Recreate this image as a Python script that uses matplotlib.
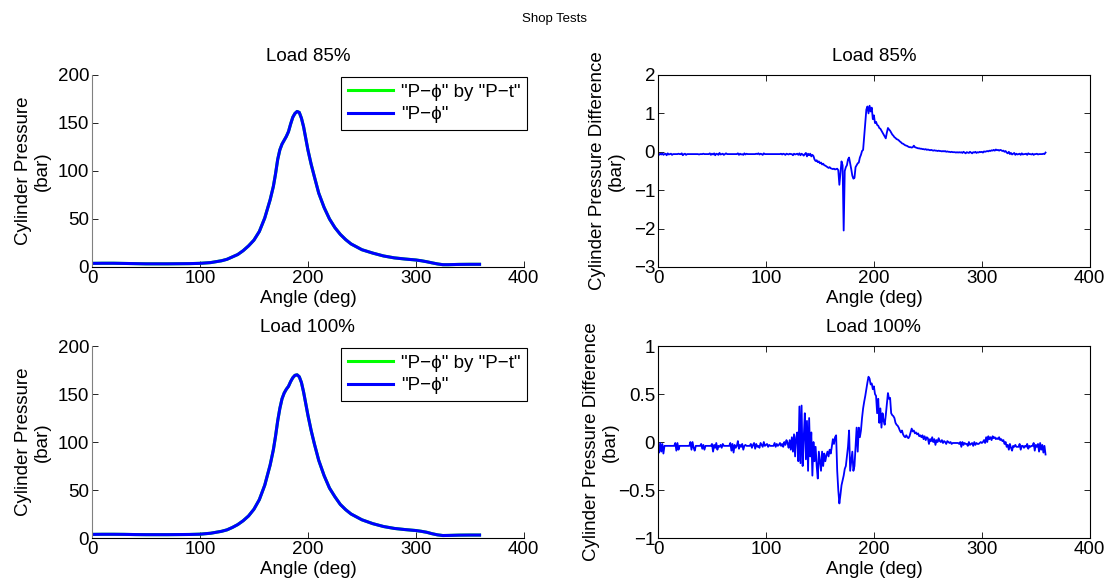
import numpy as np
import matplotlib
matplotlib.use("Agg")
import matplotlib.pyplot as plt

plt.rcParams['font.family'] = ['Liberation Sans', 'DejaVu Sans']
plt.rcParams['font.size'] = 13.5

# ---- cylinder pressure vs crank angle ----
p85_angle = [0, 10, 20, 30, 40, 50, 60, 70, 80, 90, 100, 110, 120, 125, 130, 135, 140, 145,
             150, 155, 160, 165, 168, 170, 172, 174, 176, 178, 180, 182, 184, 186, 188, 190,
             192, 194, 196, 198, 200, 203, 206, 210, 215, 220, 225, 230, 235, 240, 250, 260,
             270, 280, 290, 300, 305, 310, 315, 320, 325, 330, 340, 350, 359]
p85_value = [3.8, 3.9, 3.9, 3.7, 3.5, 3.3, 3.3, 3.3, 3.4, 3.5, 3.8, 4.6, 6.5, 8.0, 10.5, 13.0,
             17.0, 22.0, 28.0, 37.0, 51.0, 70.0, 84.0, 97.0, 112.0, 122.0, 128.0, 132.0, 136.0,
             141.0, 149.0, 156.0, 160.0, 162.0, 161.0, 155.0, 146.0, 134.0, 122.0, 107.0, 94.0,
             77.0, 62.0, 50.0, 41.0, 34.0, 28.5, 24.0, 18.0, 14.5, 11.5, 9.5, 8.3, 7.3, 6.5, 5.5,
             4.3, 3.2, 2.4, 2.4, 2.7, 2.8, 2.8]

p100_angle = p85_angle
p100_value = [3.8, 3.9, 3.9, 3.8, 3.6, 3.5, 3.5, 3.5, 3.6, 3.7, 4.0, 5.0, 7.0, 8.5, 11.0, 14.0,
              18.0, 23.0, 30.0, 40.0, 55.0, 76.0, 92.0, 106.0, 122.0, 135.0, 145.0, 151.0, 155.0,
              158.0, 163.0, 167.0, 169.5, 170.0, 168.0, 162.0, 152.0, 140.0, 128.0, 112.0, 98.0,
              81.0, 65.0, 52.0, 43.0, 35.0, 29.5, 25.0, 19.0, 15.0, 12.0, 10.0, 8.8, 7.8, 7.0, 6.0,
              4.5, 3.3, 2.6, 2.7, 3.0, 3.1, 3.1]

# ---- pressure difference ("P-phi" minus "P-phi by P-t"), one sample per degree ----
diff_angle = np.arange(0, 360)

diff85 = [
    -0.04, -0.08, -0.05, -0.07, -0.04, -0.08, -0.06, -0.05, -0.09, -0.04, -0.07, -0.06, -0.05, -0.08, -0.06, -0.06, -0.06, -0.06, -0.06, -0.05,
    -0.06, -0.06, -0.04, -0.09, -0.06, -0.05, -0.08, -0.06, -0.06, -0.06, -0.06, -0.06, -0.06, -0.06, -0.06, -0.06, -0.06, -0.06, -0.07, -0.06,
    -0.06, -0.06, -0.05, -0.06, -0.06, -0.06, -0.06, -0.06, -0.04, -0.08, -0.05, -0.07, -0.04, -0.09, -0.05, -0.06, -0.08, -0.03, -0.07, -0.06,
    -0.05, -0.08, -0.06, -0.04, -0.06, -0.06, -0.06, -0.06, -0.06, -0.06, -0.06, -0.06, -0.06, -0.06, -0.04, -0.08, -0.05, -0.07, -0.06, -0.08,
    -0.04, -0.07, -0.05, -0.06, -0.06, -0.06, -0.06, -0.06, -0.06, -0.06, -0.06, -0.05, -0.06, -0.04, -0.07, -0.05, -0.06, -0.08, -0.04, -0.06,
    -0.06, -0.06, -0.06, -0.06, -0.06, -0.06, -0.06, -0.06, -0.06, -0.06, -0.06, -0.06, -0.06, -0.06, -0.05, -0.07, -0.05, -0.06, -0.08, -0.05,
    -0.06, -0.07, -0.05, -0.06, -0.06, -0.09, -0.05, -0.07, -0.06, -0.05, -0.08, -0.04, -0.09, -0.05, -0.07, -0.10, -0.06, -0.03, -0.12, -0.05,
    -0.09, -0.05, -0.12, -0.08, -0.11, -0.20, -0.24, -0.22, -0.27, -0.25, -0.30, -0.28, -0.33, -0.31, -0.35, -0.36, -0.38, -0.40, -0.42, -0.40,
    -0.43, -0.44, -0.45, -0.44, -0.46, -0.45, -0.44, -0.48, -0.86, -0.55, -0.25, -0.35, -2.05, -0.50, -0.40, -0.35, -0.20, -0.15, -0.30, -0.45,
    -0.62, -0.70, -0.68, -0.40, -0.35, -0.30, -0.28, -0.15, -0.08, 0.02, 0.05, 0.40, 0.75, 1.10, 1.18, 1.00, 1.20, 1.05, 1.15, 0.85,
    0.95, 0.75, 0.78, 0.70, 0.68, 0.62, 0.60, 0.55, 0.50, 0.45, 0.40, 0.35, 0.50, 0.62, 0.58, 0.55, 0.50, 0.45, 0.42, 0.38,
    0.36, 0.33, 0.32, 0.30, 0.27, 0.25, 0.22, 0.21, 0.19, 0.17, 0.16, 0.15, 0.13, 0.12, 0.12, 0.11, 0.12, 0.16, 0.12, 0.11,
    0.10, 0.09, 0.09, 0.08, 0.08, 0.07, 0.07, 0.06, 0.07, 0.05, 0.06, 0.05, 0.04, 0.05, 0.04, 0.03, 0.04, 0.03, 0.03, 0.02,
    0.03, 0.02, 0.02, 0.01, 0.02, 0.01, 0.02, 0.00, 0.01, 0.00, 0.00, -0.01, 0.00, -0.01, -0.01, -0.01, -0.02, -0.01, -0.02, -0.01,
    -0.02, -0.01, -0.03, 0.00, -0.02, -0.04, -0.01, -0.02, -0.03, 0.00, -0.02, -0.04, -0.01, -0.02, 0.00, -0.03, -0.01, -0.02, 0.00, -0.01,
    0.00, -0.02, 0.01, 0.00, 0.01, 0.02, 0.01, 0.03, 0.02, 0.04, 0.03, 0.05, 0.03, 0.06, 0.04, 0.05, 0.03, 0.05, 0.04, 0.02,
    0.03, 0.00, 0.02, -0.02, -0.04, 0.00, -0.06, -0.03, -0.07, -0.05, -0.03, -0.08, -0.05, -0.07, -0.06, -0.05, -0.08, -0.04, -0.07, -0.06,
    -0.06, -0.05, -0.08, -0.04, -0.06, -0.06, -0.07, -0.05, -0.08, -0.06, -0.06, -0.05, -0.07, -0.06, -0.06, -0.06, -0.06, -0.05, -0.06, -0.02,
]

diff100 = [
    -0.03, -0.11, -0.01, -0.10, -0.02, -0.12, -0.04, -0.04, -0.04, -0.04, -0.04, -0.04, -0.04, -0.04, -0.04, -0.04, -0.01, -0.09, -0.01, -0.08,
    -0.04, -0.04, -0.04, -0.04, -0.04, -0.04, -0.04, -0.04, -0.04, -0.04, 0.00, -0.08, 0.00, -0.06, -0.09, -0.04, -0.04, -0.04, -0.04, -0.04,
    -0.02, -0.07, -0.03, -0.08, -0.04, -0.04, -0.04, -0.04, -0.04, -0.04, -0.02, -0.10, -0.03, -0.06, -0.01, -0.08, -0.04, -0.05, -0.03, -0.06,
    -0.02, -0.04, -0.04, -0.04, -0.04, -0.04, -0.04, -0.01, -0.09, -0.02, -0.11, -0.03, -0.06, -0.04, 0.01, -0.07, -0.03, -0.05, -0.02, -0.08,
    -0.04, -0.03, -0.04, -0.04, -0.04, -0.04, -0.02, -0.06, -0.03, -0.01, -0.07, -0.02, -0.05, -0.04, -0.06, -0.01, -0.03, -0.05, 0.00, -0.04,
    -0.03, -0.02, -0.05, -0.03, -0.04, -0.04, -0.04, -0.04, -0.01, -0.05, -0.02, -0.04, -0.03, -0.01, -0.04, -0.02, -0.05, 0.00, -0.03, 0.02,
    -0.01, -0.06, 0.02, -0.08, 0.05, -0.10, 0.08, -0.15, 0.05, 0.10, -0.20, 0.37, -0.22, 0.38, -0.25, 0.05, 0.30, -0.18, 0.22, -0.30,
    0.25, -0.15, 0.10, -0.35, 0.00, -0.20, -0.05, -0.25, -0.38, -0.10, -0.20, -0.30, -0.10, -0.25, -0.12, -0.20, -0.14, -0.10, -0.15, -0.08,
    -0.12, -0.05, 0.03, -0.02, 0.05, 0.07, -0.30, -0.50, -0.64, -0.55, -0.45, -0.40, -0.35, -0.28, -0.25, -0.15, -0.05, 0.12, -0.30, -0.20,
    -0.10, -0.30, -0.25, -0.05, 0.15, -0.10, 0.15, 0.05, 0.12, 0.25, 0.35, 0.42, 0.48, 0.55, 0.62, 0.68, 0.66, 0.60, 0.61, 0.55,
    0.58, 0.50, 0.48, 0.30, 0.45, 0.20, 0.35, 0.15, 0.30, 0.22, 0.18, 0.28, 0.40, 0.51, 0.45, 0.46, 0.30, 0.28, 0.27, 0.25,
    0.20, 0.18, 0.17, 0.15, 0.12, 0.10, 0.12, 0.08, 0.06, 0.05, 0.07, 0.05, 0.04, 0.06, 0.10, 0.14, 0.11, 0.12, 0.09, 0.10,
    0.08, 0.09, 0.06, 0.07, 0.05, 0.07, 0.03, 0.06, 0.02, 0.05, 0.04, -0.02, 0.03, 0.01, 0.05, 0.00, 0.03, -0.03, 0.02, 0.00,
    0.04, 0.01, 0.00, 0.02, -0.01, 0.01, 0.00, -0.02, 0.01, 0.00, -0.01, 0.00, -0.02, -0.01, -0.01, -0.01, -0.01, -0.01, -0.01, -0.02,
    0.00, -0.05, 0.00, -0.03, -0.01, -0.02, -0.02, -0.04, 0.00, -0.03, -0.02, -0.01, -0.04, 0.00, -0.03, -0.01, -0.02, -0.02, -0.01, 0.00,
    -0.01, 0.00, 0.02, -0.01, 0.05, 0.00, 0.06, 0.03, 0.05, 0.02, 0.06, 0.04, 0.05, 0.03, 0.04, 0.03, 0.05, 0.02, 0.03, 0.01,
    0.02, -0.02, 0.00, -0.05, -0.03, -0.08, -0.02, -0.06, -0.09, -0.04, -0.05, -0.03, -0.05, -0.05, -0.05, -0.02, -0.08, -0.04, -0.04, -0.06,
    -0.04, -0.05, -0.02, -0.07, -0.04, -0.05, -0.04, -0.04, -0.01, -0.09, -0.03, -0.05, -0.02, -0.10, -0.01, -0.08, -0.03, -0.11, -0.04, -0.13,
]

titles = ["Load 85%", "Load 100%"]
legend_labels = ["\"P\u2212\u03d5\" by \"P\u2212t\"", "\"P\u2212\u03d5\""]

fig = plt.figure(figsize=(11.1, 5.85), dpi=100)
fig.text(0.5, 0.968, "Shop Tests", ha="center", va="center", fontsize=9.5)

W = 0.389
left_x, right_x = 0.0829, 0.5928
rows_y = [(0.5436, 0.3282), (0.0803, 0.3282)]

pressure_sets = [(p85_angle, p85_value), (p100_angle, p100_value)]
diff_sets = [diff85, diff100]
diff_limits = [(-3, 2), (-1, 1)]
diff_ticks = [[-3, -2, -1, 0, 1, 2], [-1, -0.5, 0, 0.5, 1]]
diff_ticklabels = [["\u22123", "\u22122", "\u22121", "0", "1", "2"],
                   ["\u22121", "\u22120.5", "0", "0.5", "1"]]
diff_label_x = [-0.077, -0.09]


def style_common(ax):
    ax.set_xlim(0, 400)
    ax.set_xticks([0, 100, 200, 300, 400])
    ax.tick_params(direction="in", length=4, width=0.6, labelsize=13.5)
    ax.tick_params(axis="x", pad=2.5)
    ax.tick_params(axis="y", pad=2)
    ax.set_xlabel("Angle (deg)")
    ax.xaxis.set_label_coords(0.5, -0.118)


for r in range(2):
    y0, h = rows_y[r]

    # pressure curves
    ax = fig.add_axes([left_x, y0, W, h])
    ang, val = pressure_sets[r]
    ax.plot(ang, val, color=(0, 1, 0), lw=2.2, label=legend_labels[0])
    ax.plot(ang, val, color=(0, 0, 1), lw=2.2, label=legend_labels[1])
    ax.set_ylim(0, 200)
    ax.set_yticks([0, 50, 100, 150, 200])
    style_common(ax)
    ax.spines["top"].set_visible(False)
    ax.spines["right"].set_visible(False)
    ax.spines["left"].set_color("#808080")
    ax.spines["bottom"].set_linewidth(0.8)
    ax.set_ylabel("Cylinder Pressure\n(bar)", linespacing=1.15)
    ax.yaxis.set_label_coords(-0.095, 0.5)
    ax.set_title(titles[r], fontsize=13.5, pad=10)
    leg = ax.legend(loc="upper right", bbox_to_anchor=(1.008, 0.99), fancybox=False,
                    framealpha=1, edgecolor="black", handlelength=2.4, borderaxespad=0.0,
                    borderpad=0.35, labelspacing=0.3, handletextpad=0.45, fontsize=13.5)
    leg.get_frame().set_linewidth(0.8)

    # pressure difference
    ax2 = fig.add_axes([right_x, y0, W, h])
    ax2.plot(diff_angle, diff_sets[r], color=(0, 0, 1), lw=1.3)
    ax2.set_ylim(*diff_limits[r])
    ax2.set_yticks(diff_ticks[r])
    ax2.set_yticklabels(diff_ticklabels[r])
    style_common(ax2)
    ax2.tick_params(top=True, right=True)
    for s in ax2.spines.values():
        s.set_linewidth(0.8)
    ax2.set_ylabel("Cylinder Pressure Difference\n(bar)", linespacing=1.15)
    ax2.yaxis.set_label_coords(diff_label_x[r], 0.5)
    ax2.set_title(titles[r], fontsize=13.5, pad=10)

fig.savefig("out.png", dpi=100)
